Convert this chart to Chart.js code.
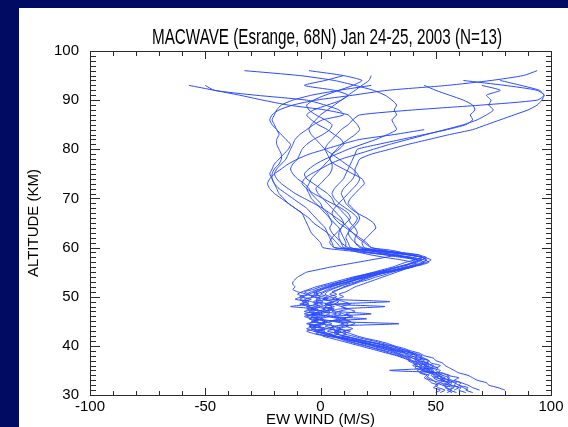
<!DOCTYPE html>
<html>
<head>
<meta charset="utf-8">
<script src="https://cdn.jsdelivr.net/npm/chart.js@4.4.1/dist/chart.umd.min.js"></script>
<style>
  html, body { margin: 0; padding: 0; background: #020b62; overflow: hidden; }
  canvas { display: block; }
</style>
</head>
<body>
<canvas id="chart" width="568" height="427"></canvas>
<script>
// Altitude grid (km): 0.5 km steps up to 60 km, 1 km steps above.
const altitudeKm = [
  30,30.5,31,31.5,32,32.5,33,33.5,34,34.5,35,35.5,36,36.5,37,37.5,38,38.5,39,39.5,
  40,40.5,41,41.5,42,42.5,43,43.5,44,44.5,45,45.5,46,46.5,47,47.5,48,48.5,49,49.5,
  50,50.5,51,51.5,52,52.5,53,53.5,54,54.5,55,55.5,56,56.5,57,57.5,58,58.5,59,59.5,60,
  61,62,63,64,65,66,67,68,69,70,71,72,73,74,75,76,77,78,79,80,
  81,82,83,84,85,86,87,88,89,90,91,92,93,94,95,96
];

// East-west wind (m/s) for each of the 13 soundings, on the altitude grid above.
const flight1 = [null,63,60,61,56,57,52,54,50,48,49,45,47,44,45,41,42,37,35,31,28,24,18,14,9,11,6,9,5,34,4,8,3,7,2,6,0,4,-2,3,-4,-1,-3,0,3,6,9,13,17,21,27,33,39,44,47,45,39,32,26,21,17,
  15,15,16,15,13,12,10,8,6,5,3,0,-3,-6,-7,-5,-2,2,7,12,18,24,29,33,32,31,33,32,33,31,28,23,15,6,-9,-33];
const flight2 = [null,57,55,58,53,55,51,49,52,47,44,47,43,46,42,44,39,40,34,30,26,21,17,12,6,2,-3,1,-5,0,3,-2,2,-4,1,-6,-2,-8,-5,-9,-7,-10,-8,-5,-2,2,6,10,14,19,24,29,33,37,41,44,46,42,33,22,12,
  9,7,5,4,5,4,3,1,0,-2,-4,-5,-7,-10,-12,-13,-12,-10,-9,-8,-6,-3,1,4,5,2,-2,-5,-6,-3,2,8,14,18,10,-5];
const flight3 = [null,null,80,77,73,72,68,66,64,60,58,56,54,53,50,49,45,43,39,36,32,29,25,20,16,13,10,14,11,15,12,9,13,10,8,12,9,6,8,5,7,4,6,8,10,13,16,19,22,25,29,33,37,41,44,46,44,39,33,27,22,
  19,16,14,12,10,7,4,1,-3,-7,-11,-14,-17,-19,-20,-19,-17,-15,-14,-13,-12,-11,-9,-6,-3,1,10,8,2,-6,-28,-46,-50,null,null,null];
const flight4 = [null,null,69,66,64,61,58,60,55,53,30,50,52,48,47,45,43,40,38,34,31,27,23,18,14,10,13,7,10,12,8,11,6,9,5,8,28,4,6,1,3,0,2,4,7,10,13,16,20,24,30,35,40,42,40,35,28,22,17,13,11,
  11,10,9,8,6,4,2,0,-2,-4,-5,-6,-5,-4,-2,0,2,4,5,7,9,12,15,17,16,14,12,2,-14,-25,-35,-46,-57,null,null,null];
const flight5 = [null,59,56,55,53,50,49,47,46,48,44,45,41,43,40,38,36,33,30,26,22,18,15,11,7,4,8,3,6,1,5,0,4,-2,2,-4,0,-3,1,-2,0,-3,-1,1,4,7,11,14,18,22,26,30,34,38,41,42,38,31,22,14,6,
  5,4,3,2,0,-2,-4,-6,-9,-12,-15,-18,-20,-21,-21,-20,-18,-17,-17,-18,-19,-19,-18,-19,-21,-22,-21,-18,-12,-2,14,29,55,74,88,94];
const flight6 = [null,50,52,49,51,48,47,45,46,43,44,41,42,40,38,39,35,32,28,24,19,15,11,8,4,-2,2,-4,0,-6,-2,-5,-1,-7,-3,-1,-13,-5,-8,-4,-9,-6,-10,-12,-11,-12,-12,-11,-10,-8,-6,-1,4,10,16,22,28,33,35,30,22,
  20,17,14,11,8,6,5,6,8,10,12,14,16,17,16,14,11,8,5,2,0,-2,-4,-5,-4,-2,0,3,6,9,12,15,18,21,22,null];
const flight7 = [null,null,64,62,60,58,56,53,51,50,48,49,45,47,43,40,38,36,32,29,25,20,16,10,5,8,3,6,2,5,1,20,3,0,4,1,5,2,6,8,4,7,5,8,11,14,17,21,24,28,31,35,39,43,46,48,45,39,32,25,19,
  18,20,22,24,23,20,16,13,11,10,9,10,12,14,15,15,16,17,22,30,38,47,56,66,72,78,84,90,94,96,97,95,87,78,null,null];
const flight8 = [null,55,57,54,56,52,54,50,48,49,45,43,44,41,39,37,34,30,27,23,20,16,12,9,6,3,-1,2,-3,1,-4,-1,-6,-2,-7,-3,-5,-9,-6,-11,-8,-5,-7,-3,0,4,8,12,15,19,23,27,31,34,37,41,44,43,35,20,6,
  4,5,7,9,10,9,7,5,3,1,-1,-2,0,2,4,5,5,4,3,2,3,5,7,9,12,14,17,40,70,94,97,94,80,62,null,null];
const flight9 = [null,null,null,60,58,59,55,56,53,51,52,48,49,46,47,43,44,41,37,34,30,25,20,15,11,6,9,4,7,10,6,9,5,22,7,3,6,2,5,1,4,2,3,5,8,11,15,18,21,25,29,33,37,40,42,44,40,33,26,18,13,
  12,11,12,14,16,17,16,14,12,13,15,17,19,18,14,10,6,4,5,8,10,9,6,3,-1,-4,-6,-3,3,9,12,6,-7,2,10,null];
const flight10 = [null,66,63,64,60,61,57,55,56,52,50,51,48,46,47,44,42,39,36,32,28,24,19,15,10,7,11,8,12,9,13,10,14,11,15,12,9,13,10,7,10,8,11,13,15,18,21,24,27,30,33,36,39,42,45,46,44,38,30,23,18,
  15,13,12,13,15,16,14,11,8,6,5,6,8,10,11,12,13,14,15,16,25,35,45,55,63,66,65,67,66,62,56,50,45,null,null,null];
const flight11 = [null,null,null,null,54,56,53,51,49,50,47,45,46,43,41,42,39,37,33,29,24,20,14,10,2,-3,-6,-2,-5,-1,2,-3,0,4,1,5,2,6,30,4,1,-2,1,3,5,8,12,15,19,23,27,33,38,43,45,42,35,28,21,15,10,
  9,8,8,9,11,13,12,9,5,1,-3,-6,-8,-7,-4,0,4,9,16,23,30,38,46,54,62,68,72,75,73,74,72,78,70,null,null,null];
const flight12 = [null,52,54,51,50,52,48,46,47,44,42,44,40,42,39,36,33,29,25,21,17,13,9,5,1,4,-2,3,-1,2,-3,1,-4,0,-5,-2,-6,-1,-4,-7,-3,-6,-4,-1,2,5,9,12,16,20,25,29,33,37,40,41,37,29,19,9,1,
  0,-2,-4,-5,-6,-7,-8,-11,-14,-17,-20,-22,-23,-22,-20,-17,-14,-10,-5,2,9,17,32,45,null,null,null,null,null,null,null,null,null,null,null,null];
const flight13 = [null,null,58,60,57,55,56,52,53,50,46,48,45,44,42,40,37,34,31,27,23,19,14,9,5,1,-3,-6,-2,-5,-1,-4,-7,-3,-1,2,-2,1,-3,0,-2,-5,-2,1,4,8,12,16,20,24,28,32,36,38,40,43,44,38,29,18,9,
  7,5,3,0,-3,-5,-8,-11,-14,-16,-18,-19,-20,-21,-22,-21,-20,-18,-16,-14,-13,-15,-17,-19,-20,-21,-20,-19,-17,-12,-4,8,22,null,null,null];

const flights = [flight1, flight2, flight3, flight4, flight5, flight6, flight7,
                 flight8, flight9, flight10, flight11, flight12, flight13];

// Axis labelling
const windTicks = [-100, -50, 0, 50, 100];
const altitudeTicks = [30, 40, 50, 60, 70, 80, 90, 100];
const windMinorTicks = [-100,-90,-80,-70,-60,-50,-40,-30,-20,-10,0,10,20,30,40,50,60,70,80,90,100];
const altitudeMinorTicks = [30,31,32,33,34,35,36,37,38,39,40,41,42,43,44,45,46,47,48,49,50,
  51,52,53,54,55,56,57,58,59,60,61,62,63,64,65,66,67,68,69,70,71,72,73,74,75,76,77,78,79,80,
  81,82,83,84,85,86,87,88,89,90,91,92,93,94,95,96,97,98,99,100];
const chartTitle = 'MACWAVE (Esrange, 68N) Jan 24-25, 2003 (N=13)';
const xTitle = 'EW WIND (M/S)';
const yTitle = 'ALTITUDE (KM)';

const LINE_COLOR = '#2a4bff';
const TICK_COLOR = '#2a2a2a';
const FONT = '"Liberation Sans", Arial, Helvetica, sans-serif';

const datasets = flights.map((winds, k) => ({
  label: 'Sounding ' + (k + 1),
  data: altitudeKm.map((alt, i) => ({ x: winds[i], y: alt })).filter(p => p.x !== null),
  borderColor: LINE_COLOR,
  borderWidth: 1,
  pointRadius: 0,
  pointHoverRadius: 0,
  showLine: true,
  fill: false,
  tension: 0.2
}));

// Boxed frame with inward major/minor ticks on all four sides.
function drawFrame(chart) {
  const ctx = chart.ctx;
  const xs = chart.scales.x, ys = chart.scales.y;
  const area = chart.chartArea;
  const L = Math.round(area.left), R = Math.round(area.right);
  const T = Math.round(area.top), B = Math.round(area.bottom);
  ctx.save();
  ctx.fillStyle = TICK_COLOR;
  ctx.fillRect(L, T, R - L + 1, 1);
  ctx.fillRect(L, B, R - L + 1, 1);
  ctx.fillRect(L, T, 1, B - T + 1);
  ctx.fillRect(R, T, 1, B - T + 1);
  windMinorTicks.forEach(v => {
    const px = Math.round(xs.getPixelForValue(v));
    const len = windTicks.includes(v) ? 7 : 4;
    ctx.fillRect(px, B - len, 1, len);
    ctx.fillRect(px, T + 1, 1, len);
  });
  altitudeMinorTicks.forEach(v => {
    const py = Math.round(ys.getPixelForValue(v));
    const len = altitudeTicks.includes(v) ? 9 : 5;
    ctx.fillRect(L + 1, py, len, 1);
    ctx.fillRect(R - len, py, len, 1);
  });
  ctx.restore();
}

// Slide background, frame and titles.
const framePlugin = {
  id: 'frame',
  beforeDraw(chart) {
    const ctx = chart.ctx;
    ctx.save();
    ctx.fillStyle = '#020b62';
    ctx.fillRect(0, 0, chart.width, chart.height);
    ctx.fillStyle = '#ffffff';
    ctx.fillRect(19, 8, chart.width - 19, chart.height - 8);
    ctx.restore();
  },
  afterDatasetsDraw(chart) {
    drawFrame(chart);
  },
  afterDraw(chart) {
    const ctx = chart.ctx;
    drawFrame(chart);

    ctx.save();
    ctx.fillStyle = '#000000';
    // Title, set in a narrow face
    ctx.font = '22px ' + FONT;
    ctx.textBaseline = 'alphabetic';
    ctx.textAlign = 'center';
    const w = ctx.measureText(chartTitle).width;
    ctx.translate(327, 43.5);
    ctx.scale(350 / w, 1);
    ctx.fillText(chartTitle, 0, 0);
    ctx.restore();

    // Axis titles
    ctx.save();
    ctx.fillStyle = '#000000';
    ctx.font = '15px ' + FONT;
    ctx.textAlign = 'center';
    ctx.textBaseline = 'alphabetic';
    ctx.fillText(xTitle, (chart.chartArea.left + chart.chartArea.right) / 2, 424);
    ctx.translate(37.5, (chart.chartArea.top + chart.chartArea.bottom) / 2);
    ctx.rotate(-Math.PI / 2);
    ctx.fillText(yTitle, 0, 0);
    ctx.restore();
  }
};

new Chart(document.getElementById('chart'), {
  type: 'scatter',
  data: { datasets },
  options: {
    responsive: false,
    animation: false,
    devicePixelRatio: 1,
    layout: { padding: { left: 0, right: 17, top: 51, bottom: 0 } },
    plugins: { legend: { display: false }, tooltip: { enabled: false }, title: { display: false } },
    scales: {
      x: {
        type: 'linear', min: -100, max: 100,
        afterBuildTicks: s => { s.ticks = windTicks.map(v => ({ value: v })); },
        afterFit: s => { s.height = 32; },
        grid: { display: false, drawTicks: false },
        border: { display: false },
        ticks: { color: '#000', font: { family: FONT, size: 15 }, padding: 3, maxRotation: 0, autoSkip: false }
      },
      y: {
        type: 'linear', min: 30, max: 100,
        afterBuildTicks: s => { s.ticks = altitudeTicks.map(v => ({ value: v })); },
        afterFit: s => { s.width = 90; },
        grid: { display: false, drawTicks: false },
        border: { display: false },
        ticks: { color: '#000', font: { family: FONT, size: 15 }, padding: 11, autoSkip: false }
      }
    }
  },
  plugins: [framePlugin]
});
</script>
</body>
</html>
